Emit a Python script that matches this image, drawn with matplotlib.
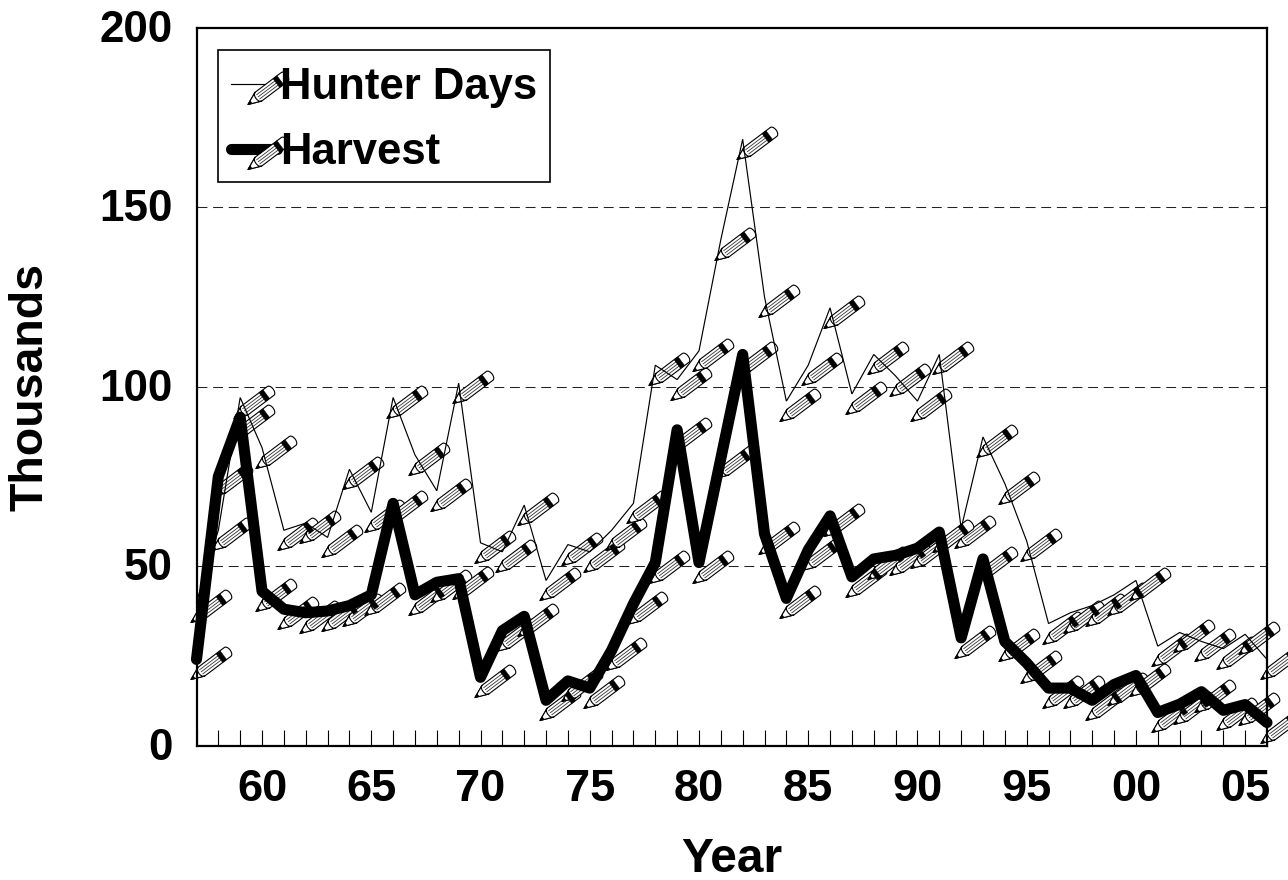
import numpy as np
import matplotlib
matplotlib.use("Agg")
import matplotlib.pyplot as plt
import matplotlib.transforms as mtransforms
from matplotlib.lines import Line2D
from matplotlib.path import Path
from matplotlib.legend_handler import HandlerTuple

plt.rcParams['font.family'] = ['Liberation Sans', 'DejaVu Sans']
plt.rcParams['font.weight'] = 'bold'

years = list(range(1957, 2007))
hunter_days = [40, 60, 97, 83, 60, 62, 58, 77, 65, 97,
               81, 71, 101, 56.5, 54, 67, 46, 56, 54, 60,
               67.5, 106, 102, 110, 141, 169, 125, 96, 106, 122,
               98, 109, 103, 96, 109, 60.5, 86, 73, 57, 34,
               37, 39, 42, 46, 27.7, 31.5, 29, 27, 31, 24]
harvest = [24, 75, 91.5, 43, 38, 37, 37.5, 39, 42, 67.5,
           42, 45.5, 46.5, 19, 32, 36, 12.6, 18, 16, 26.5,
           39.5, 51, 88, 51, 80, 109, 59, 41, 54.5, 64,
           47, 52, 53, 55, 59.5, 30, 52, 29, 23, 16,
           16, 12.6, 17, 19.5, 9.2, 11.5, 15, 9.8, 11.4, 6.4]

label_years = list(range(1960, 2006, 5))
label_text = ['60', '65', '70', '75', '80', '85', '90', '95', '00', '05']
y_ticks = [0, 50, 100, 150, 200]

# pencil symbol, in pixels around the data point
ANGLE = np.radians(37)
HALF = 5.5
LEN = 49.0
TIP = np.array([-6.5, -20.0])
SCALE = 60.0


def to_marker(parts):
    verts = [(SCALE, 0)]
    codes = [Path.MOVETO]
    rot = np.array([[np.cos(ANGLE), -np.sin(ANGLE)], [np.sin(ANGLE), np.cos(ANGLE)]])
    for part, closed in parts:
        pts = rot @ np.array(part).T
        pts = pts.T + TIP
        for i, p in enumerate(pts):
            verts.append(tuple(p))
            codes.append(Path.MOVETO if i == 0 else Path.LINETO)
        if closed:
            verts.append(tuple(pts[0]))
            codes.append(Path.CLOSEPOLY)
    return Path(verts, codes)


t = np.linspace(-np.pi / 2, np.pi / 2, 9)
end_cap = [(LEN - 3 + 3 * np.cos(a), HALF * np.sin(a)) for a in t]
cone_base = [(13 - 3 * np.cos(a), HALF * np.sin(a)) for a in t[::-1]]

body_marker = to_marker([([(0, 0)] + [(13, -HALF)] + end_cap + [(13, HALF)], True)])
cone_marker = to_marker([([(0, 0)] + [cone_base[-1]] + cone_base[::-1][1:], True)])
lead_marker = to_marker([([(0, 0), (4, -1.6), (4, 1.6)], True)])
stripe_marker = to_marker([([(12.5, v), (36, v)], False) for v in (-2.6, 0, 2.6)])
band_marker = to_marker([([(35.5, -HALF), (40.5, -HALF), (40.5, HALF), (35.5, HALF)], True)])

ms = 2 * SCALE * 0.72
pencil_parts = [
    dict(marker=body_marker, markerfacecolor='white', markeredgecolor='black', markeredgewidth=0.8),
    dict(marker=stripe_marker, markerfacecolor='none', markeredgecolor='#333333', markeredgewidth=0.6),
    dict(marker=cone_marker, markerfacecolor='white', markeredgecolor='black', markeredgewidth=0.8),
    dict(marker=lead_marker, markerfacecolor='black', markeredgecolor='black', markeredgewidth=0.3),
    dict(marker=band_marker, markerfacecolor='black', markeredgecolor='black', markeredgewidth=0.3),
]

hunter_style = dict(color='black', linewidth=0.85, solid_joinstyle='miter')
harvest_style = dict(color='black', linewidth=8.0, solid_joinstyle='round', solid_capstyle='round')


class ShiftedTuple(HandlerTuple):
    # legend symbols sit a little lower than matplotlib puts them
    def create_artists(self, legend, orig_handle, xdescent, ydescent, width, height, fontsize, trans):
        trans = mtransforms.Affine2D().translate(0, -3) + trans
        return super().create_artists(legend, orig_handle, xdescent, ydescent, width, height, fontsize, trans)


def draw_pencils(ax, x, y, zorder):
    for part in pencil_parts:
        ax.plot(x, y, linestyle='none', markersize=ms, clip_on=False, zorder=zorder, **part)


def legend_entry(style):
    items = [Line2D([0], [0], **style)]
    for part in pencil_parts:
        items.append(Line2D([0], [0], linestyle='none', markersize=ms, **part))
    return tuple(items)


def main():
    fig = plt.figure(figsize=(12.88, 8.8), dpi=100)
    ax = fig.add_axes([196.5 / 1288, (880 - 745.5) / 880, (1267 - 196.5) / 1288, (745.5 - 28) / 880])

    for val in [50, 100, 150]:
        ax.axhline(val, color='#222222', linewidth=0.75, linestyle=(0, (9.5, 5.5)), zorder=1)

    draw_pencils(ax, years, hunter_days, 2)
    draw_pencils(ax, years, harvest, 2.1)
    ax.plot(years, hunter_days, zorder=3, clip_on=False, **hunter_style)
    ax.plot(years, harvest, zorder=4, clip_on=False, **harvest_style)

    ax.set_xlim(1957, 2006)
    ax.set_ylim(0, 200)

    ax.set_xticks(years, minor=True)
    ax.set_xticks(label_years)
    ax.set_xticklabels(label_text, fontsize=32.5, fontweight='bold')
    ax.set_yticks(y_ticks)
    ax.set_yticklabels([str(v) for v in y_ticks], fontsize=31.7, fontweight='bold')
    ax.tick_params(axis='x', which='both', direction='in', length=11.5, width=0.8, pad=17)
    ax.tick_params(axis='y', which='both', length=0, pad=17)
    shift_up = mtransforms.ScaledTranslation(0, 2 / 100, fig.dpi_scale_trans)
    for lab in ax.get_yticklabels():
        lab.set_transform(lab.get_transform() + shift_up)
    for spine in ax.spines.values():
        spine.set_linewidth(1.6)

    ax.set_xlabel('Year', fontsize=34.5, fontweight='bold', labelpad=19)
    ax.set_ylabel('Thousands', fontsize=33.5, fontweight='bold', labelpad=33.5)

    leg = ax.legend(
        handles=[legend_entry(hunter_style), legend_entry(harvest_style)],
        labels=['Hunter Days', 'Harvest'],
        handler_map={tuple: ShiftedTuple(ndivide=1, pad=0)},
        numpoints=1,
        loc='upper left',
        bbox_to_anchor=((218 - 196.5) / 1070.5, (745.5 - 50) / 717.5),
        borderaxespad=0,
        prop={'size': 31.4, 'weight': 'bold'},
        handlelength=1.05,
        handletextpad=0.07,
        borderpad=0.295,
        labelspacing=0.56,
        fancybox=False,
        framealpha=1,
        edgecolor='black',
    )
    leg.get_frame().set_linewidth(1.2)
    leg.set_zorder(6)
    for txt in leg.get_texts():
        txt.set_y(-4)

    fig.savefig('out.png', dpi=100)


if __name__ == "__main__":
    main()
